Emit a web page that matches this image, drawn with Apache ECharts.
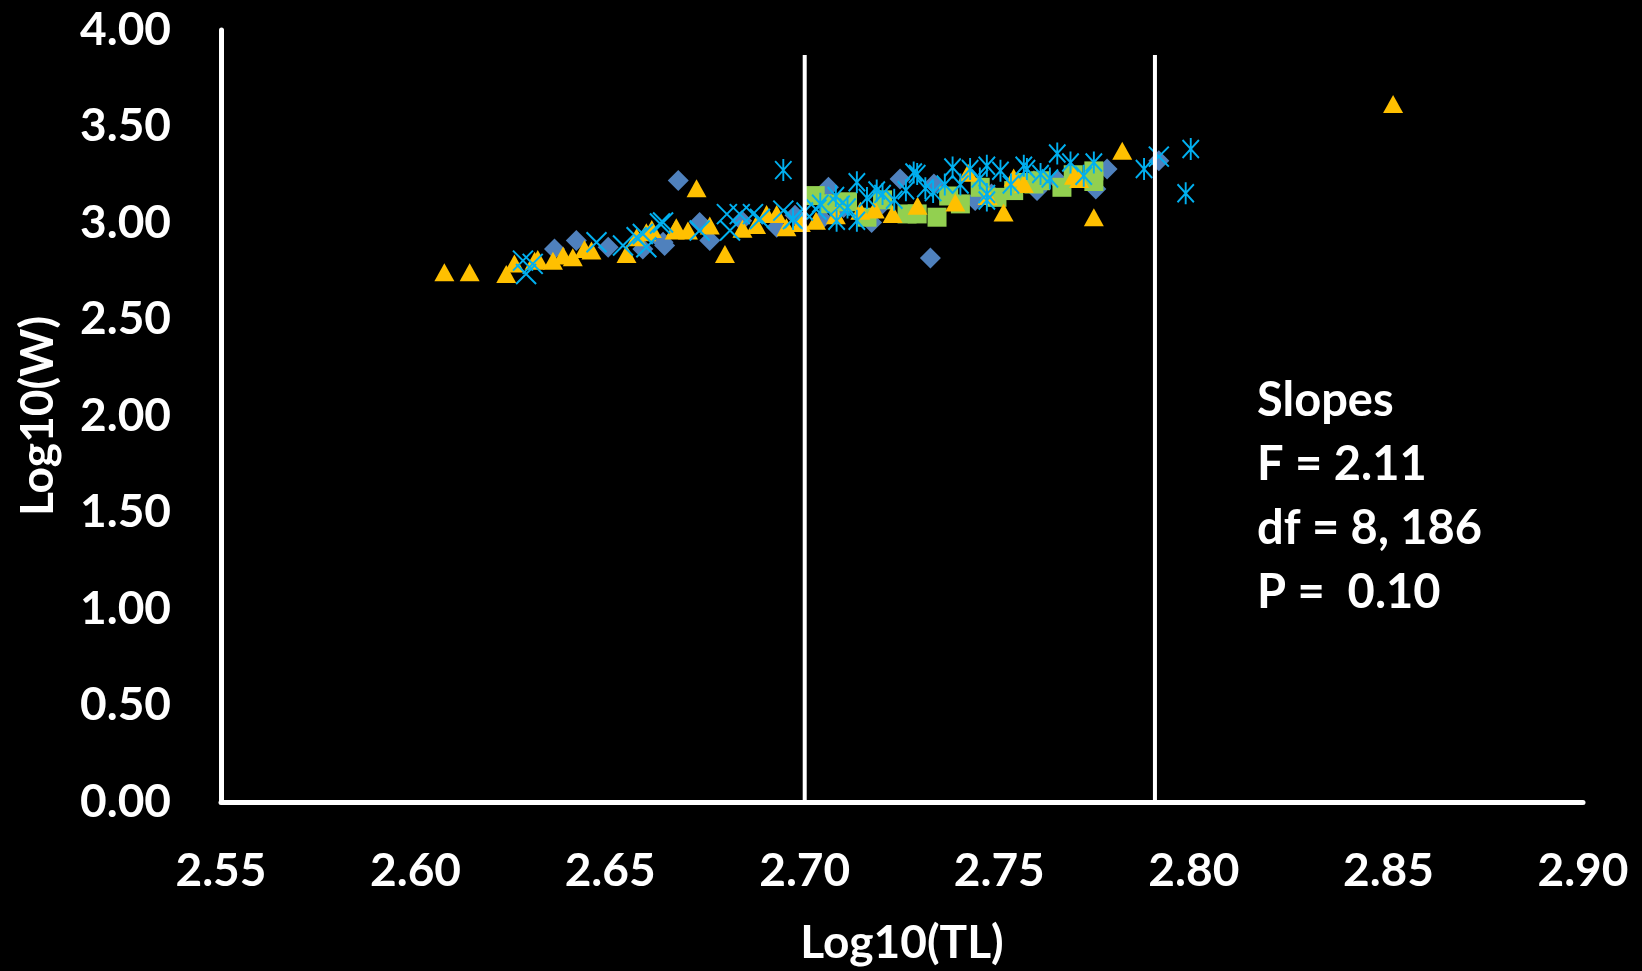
<!DOCTYPE html>
<html>
<head>
<meta charset="utf-8">
<script src="https://cdn.jsdelivr.net/npm/echarts@6/dist/echarts.min.js"></script>
<style>
  html, body { margin: 0; padding: 0; background: #000; }
  #main { width: 1642px; height: 971px; }
</style>
</head>
<body>
<div id="main"></div>
<script>
// data, [log10(TL), log10(W)]
var diamondPts = [[2.6357,2.865],[2.6413,2.909],[2.6495,2.874],[2.6584,2.865],[2.6636,2.90],[2.664,2.883],[2.6675,3.22],[2.673,3.003],[2.6756,2.909],[2.6838,3.012],[2.6928,2.978],[2.6975,3.04],[2.7045,3.021],[2.7061,3.185],[2.710,3.08],[2.7172,3.003],[2.720,3.10],[2.7245,3.228],[2.7323,2.819],[2.7332,3.202],[2.7438,3.116],[2.748,3.15],[2.7589,3.219],[2.7593,3.202],[2.7597,3.168],[2.765,3.22],[2.7748,3.176],[2.7777,3.28],[2.791,3.323]];
var squarePts = [[2.7027,3.142],[2.7065,3.10],[2.711,3.11],[2.716,3.03],[2.720,3.12],[2.7263,3.047],[2.7289,3.047],[2.734,3.03],[2.737,3.14],[2.740,3.099],[2.7451,3.185],[2.7494,3.133],[2.7537,3.168],[2.757,3.21],[2.7589,3.202],[2.7606,3.219],[2.7661,3.185],[2.769,3.25],[2.7743,3.215],[2.7743,3.27]];
var trianglePts = [[2.6074,2.745],[2.6139,2.745],[2.6233,2.736],[2.6254,2.79],[2.6306,2.805],[2.6314,2.814],[2.6353,2.805],[2.6379,2.831],[2.6404,2.822],[2.6434,2.865],[2.6452,2.857],[2.6542,2.84],[2.6568,2.926],[2.6593,2.952],[2.6607,2.969],[2.6666,2.961],[2.667,2.978],[2.670,2.961],[2.6722,3.18],[2.6756,2.987],[2.6795,2.84],[2.684,2.97],[2.6875,2.99],[2.6902,3.046],[2.6928,3.046],[2.6953,2.978],[2.699,3.00],[2.7029,3.012],[2.708,3.04],[2.7143,3.064],[2.718,3.07],[2.7226,3.046],[2.729,3.09],[2.7387,3.106],[2.742,3.26],[2.747,3.14],[2.7511,3.055],[2.7537,3.236],[2.7563,3.202],[2.7692,3.245],[2.7705,3.228],[2.7743,3.03],[2.7816,3.375],[2.8512,3.616]];
var crossPts = [[2.6276,2.805],[2.6284,2.736],[2.6301,2.788],[2.6465,2.90],[2.6533,2.883],[2.6568,2.926],[2.6584,2.943],[2.6593,2.874],[2.6628,2.997],[2.6636,3.003],[2.673,2.961],[2.68,3.046],[2.6808,2.961],[2.6833,3.046],[2.6867,3.046],[2.6885,3.021],[2.6945,3.064],[2.697,3.02],[2.703,3.07],[2.709,3.09],[2.791,3.344]];
var asteriskPts = [[2.6945,3.274],[2.697,3.021],[2.700,3.06],[2.704,3.10],[2.7082,3.012],[2.708,3.14],[2.711,3.08],[2.7134,3.211],[2.7134,3.012],[2.716,3.13],[2.7185,3.168],[2.720,3.15],[2.723,3.12],[2.726,3.17],[2.728,3.262],[2.7289,3.254],[2.731,3.18],[2.733,3.16],[2.736,3.20],[2.738,3.288],[2.740,3.20],[2.7425,3.28],[2.745,3.23],[2.7468,3.297],[2.7468,3.15],[2.7468,3.116],[2.7503,3.271],[2.753,3.20],[2.7563,3.297],[2.7571,3.28],[2.7606,3.254],[2.763,3.23],[2.7649,3.36],[2.7683,3.314],[2.7717,3.245],[2.7743,3.314],[2.7872,3.28],[2.7979,3.154],[2.7992,3.384]];

// vertical divider lines
var dividerX = [2.70, 2.79];
var dividerTop = 3.87;

var xMin = 2.55, xMax = 2.90, xStep = 0.05;
var yMin = 0, yMax = 4, yStep = 0.5;

var noteLines = ['Slopes', 'F = 2.11', 'df = 8, 186', 'P =  0.10'];

var font = 'Lato, "Open Sans", sans-serif';
var cyan = '#00B0F0';

var myChart = echarts.init(document.getElementById('main'));

function scatter(name, pts, symbol, size, itemStyle) {
    itemStyle.opacity = 1;
    return {
        name: name,
        type: 'scatter',
        data: pts,
        symbol: symbol,
        symbolSize: size,
        symbolKeepAspect: true,
        itemStyle: itemStyle,
        z: 3
    };
}

var series = [
    scatter('A', diamondPts, 'diamond', [21, 21], { color: '#4F81BD' }),
    scatter('B', squarePts, 'rect', [19, 19], { color: '#92D050' }),
    scatter('C', trianglePts, 'triangle', [20, 18], { color: '#FFC000' }),
    scatter('D', crossPts, 'path://M0,0L20,20M20,0L0,20', [20, 20],
        { color: 'rgba(0,0,0,0)', borderColor: cyan, borderWidth: 2 }),
    scatter('E', asteriskPts, 'path://M1,2L19,20M19,2L1,20M10,0L10,22', [20, 22],
        { color: 'rgba(0,0,0,0)', borderColor: cyan, borderWidth: 2 })
];

dividerX.forEach(function (x) {
    series.push({
        type: 'line',
        data: [[x, yMin], [x, dividerTop]],
        symbol: 'none',
        silent: true,
        lineStyle: { color: '#fff', width: 4 },
        z: 5
    });
});

var option = {
    backgroundColor: '#000',
    animation: false,
    grid: {
        left: 221,
        right: 59,
        top: 30,
        bottom: 168
    },
    xAxis: {
        type: 'value',
        min: xMin,
        max: xMax,
        interval: xStep,
        name: 'Log10(TL)',
        nameLocation: 'middle',
        nameGap: 118,
        nameTextStyle: { color: '#fff', fontFamily: font, fontWeight: 'bold', fontSize: 46 },
        axisLine: { show: true, onZero: false, lineStyle: { color: '#fff', width: 5 } },
        axisTick: { show: false },
        splitLine: { show: false },
        axisLabel: {
            color: '#fff',
            fontFamily: font,
            fontWeight: 'bold',
            fontSize: 46,
            margin: 46,
            formatter: function (v) { return v.toFixed(2); }
        }
    },
    yAxis: {
        type: 'value',
        min: yMin,
        max: yMax,
        interval: yStep,
        name: 'Log10(W)',
        nameLocation: 'middle',
        nameGap: 160,
        nameTextStyle: { color: '#fff', fontFamily: font, fontWeight: 'bold', fontSize: 46 },
        axisLine: { show: true, onZero: false, lineStyle: { color: '#fff', width: 5 } },
        axisTick: { show: false },
        splitLine: { show: false },
        axisLabel: {
            color: '#fff',
            fontFamily: font,
            fontWeight: 'bold',
            fontSize: 46,
            margin: 50,
            formatter: function (v) { return v.toFixed(2); }
        }
    },
    graphic: [{
        type: 'text',
        left: 1257,
        top: 369,
        style: {
            text: noteLines.join('\n'),
            fill: '#fff',
            font: 'bold 47px ' + font,
            lineHeight: 64
        }
    }],
    series: series
};

myChart.setOption(option);
</script>
</body>
</html>
